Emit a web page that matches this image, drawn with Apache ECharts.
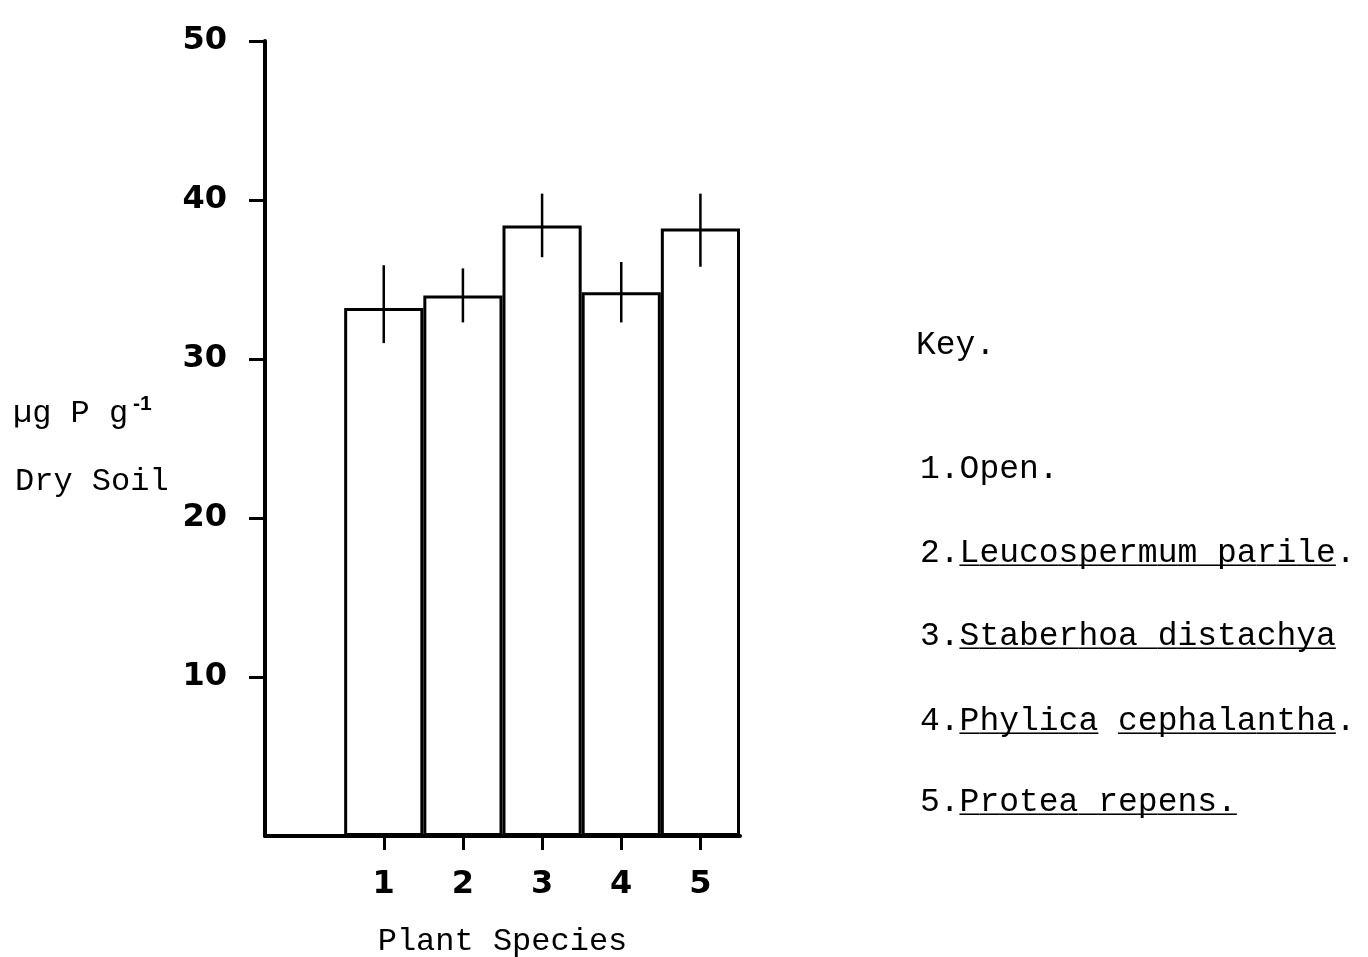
<!DOCTYPE html>
<html>
<head>
<meta charset="utf-8">
<script src="https://cdn.jsdelivr.net/npm/echarts@6/dist/echarts.min.js"></script>
<style>
  html, body { margin: 0; padding: 0; background: #fff; }
  #chart { width: 1368px; height: 957px; }
</style>
</head>
<body>
<div id="chart"></div>
<script>
// ---- data ----
const categories = ['1', '2', '3', '4', '5'];
const meanValues = [33.2, 34.0, 38.4, 34.2, 38.2];
const errLow     = [31.0, 32.3, 36.4, 32.3, 35.8];
const errHigh    = [35.9, 35.7, 40.4, 36.1, 40.4];
const yTicks     = [10, 20, 30, 40, 50];
const yAxisTitle1 = 'µg P g';
const yAxisTitleSup = '-1';
const yAxisTitle2 = 'Dry Soil';
const xAxisTitle = 'Plant Species';
const keyTitle = 'Key.';
const keyItems = [
  '1.Open.',
  '2.Leucospermum parile.',
  '3.Staberhoa distachya',
  '4.Phylica cephalantha.',
  '5.Protea repens.'
];
const keyUnderlines = [
  '',
  '  ___________________',
  '  ___________________',
  '  _______ ___________',
  '  ______________'
];

// ---- build options ----
const axisCats = [''].concat(categories);          // empty first slot as in the original
const barData = [null].concat(meanValues);
const errData = categories.map((c, i) => [i + 1, errLow[i], errHigh[i]]);

const mono = 'Liberation Mono';
const sans = 'DejaVu Sans';

const keyTop = [469, 553, 636, 721, 802];
const graphics = [
  { type: 'text', style: { x: 13, y: 414, text: yAxisTitle1, font: '32px "' + mono + '"', fill: '#000', verticalAlign: 'middle' } },
  { type: 'text', style: { x: 133, y: 404, text: yAxisTitleSup, font: 'bold 21px "Liberation Sans"', fill: '#000', verticalAlign: 'middle' } },
  { type: 'text', style: { x: 15, y: 482, text: yAxisTitle2, font: '32px "' + mono + '"', fill: '#000', verticalAlign: 'middle' } },
  { type: 'text', style: { x: 916, y: 345, text: keyTitle, font: '33px "' + mono + '"', fill: '#000', verticalAlign: 'middle' } }
];
keyItems.forEach((t, i) => {
  graphics.push({ type: 'text', style: { x: 920, y: keyTop[i], text: t, font: '33px "' + mono + '"', fill: '#000', verticalAlign: 'middle' } });
  if (keyUnderlines[i]) {
    graphics.push({ type: 'text', style: { x: 920, y: keyTop[i], text: keyUnderlines[i], font: '33px "' + mono + '"', fill: '#000', verticalAlign: 'middle' } });
  }
});

const chart = echarts.init(document.getElementById('chart'), null, { renderer: 'canvas' });
chart.setOption({
  animation: false,
  backgroundColor: '#fff',
  grid: { left: 265, top: 41, width: 475, height: 795, containLabel: false, outerBoundsMode: 'none' },
  xAxis: {
    type: 'category',
    data: axisCats,
    axisLine: { show: true, lineStyle: { color: '#000', width: 4 } },
    axisTick: {
      show: true, alignWithLabel: true, length: 14,
      interval: function (index) { return index > 0; },
      lineStyle: { color: '#000', width: 3 }
    },
    axisLabel: {
      interval: 0, margin: 33, color: '#000',
      fontFamily: sans, fontWeight: 'bold', fontSize: 32
    },
    name: xAxisTitle,
    nameLocation: 'middle',
    nameGap: 90,
    nameTextStyle: { fontFamily: mono, fontSize: 32, color: '#000' },
    splitLine: { show: false }
  },
  yAxis: {
    type: 'value',
    min: 0, max: 50, interval: 10,
    axisLine: { show: true, lineStyle: { color: '#000', width: 4 } },
    axisTick: { show: true, length: 16, customValues: yTicks, lineStyle: { color: '#000', width: 3 } },
    axisLabel: {
      customValues: yTicks, margin: 38, color: '#000',
      fontFamily: sans, fontWeight: 'bold', fontSize: 32,
      padding: [0, 0, 10, 0]
    },
    splitLine: { show: false }
  },
  series: [
    {
      type: 'bar',
      data: barData,
      barCategoryGap: '0%',
      itemStyle: { color: '#fff', borderColor: '#000', borderWidth: 3 },
      z: 2
    },
    {
      type: 'custom',
      data: errData,
      z: 3,
      renderItem: function (params, api) {
        const x = api.value(0);
        const lo = api.coord([x, api.value(1)]);
        const hi = api.coord([x, api.value(2)]);
        return {
          type: 'line',
          shape: { x1: lo[0], y1: lo[1], x2: hi[0], y2: hi[1] },
          style: { stroke: '#000', lineWidth: 2.5 }
        };
      }
    }
  ],
  graphic: graphics
});
</script>
</body>
</html>
